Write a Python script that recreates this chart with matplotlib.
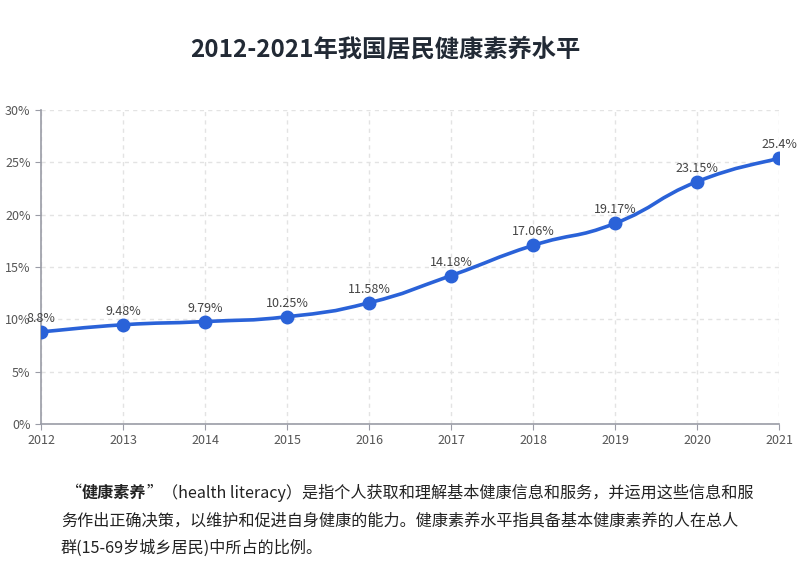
import matplotlib
matplotlib.use("Agg")
from matplotlib import pyplot as plt
from matplotlib.path import Path
from matplotlib.patches import PathPatch
import numpy as np

plt.rcParams['font.family'] = ['Noto Sans CJK SC', 'DejaVu Sans']

years = [2012, 2013, 2014, 2015, 2016, 2017, 2018, 2019, 2020, 2021]
values = [8.8, 9.48, 9.79, 10.25, 11.58, 14.18, 17.06, 19.17, 23.15, 25.4]
labels = ['8.8%', '9.48%', '9.79%', '10.25%', '11.58%', '14.18%', '17.06%', '19.17%', '23.15%', '25.4%']
yticks = [0, 5, 10, 15, 20, 25, 30]

title = '2012-2021年我国居民健康素养水平'
note_lines = [
    '务作出正确决策，以维护和促进自身健康的能力。健康素养水平指具备基本健康素养的人在总人',
    '群(15-69岁城乡居民)中所占的比例。',
]

blue = '#2a62d8'

fig = plt.figure(figsize=(8.12, 5.85), dpi=100)
ax = fig.add_axes([41/812, 1-424/585, (779-41)/812, (424-110)/585])

# smooth curve like echarts (bezier control points from neighbours)
pts = np.column_stack([years, values]).astype(float)
n = len(pts)
verts = [pts[0]]
codes = [Path.MOVETO]
s = 0.25
for i in range(n - 1):
    p0 = pts[max(i - 1, 0)]
    p1 = pts[i]
    p2 = pts[i + 1]
    p3 = pts[min(i + 2, n - 1)]
    c1 = p1 + (p2 - p0) * s
    c2 = p2 - (p3 - p1) * s
    verts += [c1, c2, p2]
    codes += [Path.CURVE4] * 3
ax.add_patch(PathPatch(Path(verts, codes), fill=False, edgecolor=blue, lw=2.6, zorder=3))
ax.plot(years, values, 'o', color=blue, ms=9, zorder=4)

for x, y, t in zip(years, values, labels):
    ax.annotate(t, (x, y), xytext=(0, 5), textcoords='offset points',
                ha='center', va='bottom', fontsize=9, color='#444444', zorder=5)

ax.set_xlim(2012, 2021)
ax.set_ylim(0, 30)
ax.set_xticks(years)
ax.set_yticks(yticks)
ax.set_yticklabels([f'{v}%' for v in yticks])
ax.tick_params(colors='#9a9ca6', labelcolor='#555555', labelsize=9, length=4)
ax.grid(True, ls=(0, (3, 3)), color='#e3e3e3', lw=1)
ax.set_axisbelow(True)
for sp in ['top', 'right']:
    ax.spines[sp].set_visible(False)
for sp in ['left', 'bottom']:
    ax.spines[sp].set_color('#9a9ca6')
    ax.spines[sp].set_linewidth(1.2)

fig.text(385/812, 1-50/585, title, ha='center', va='center', fontsize=17.5,
         fontweight='bold', color='#222a35')

# note paragraph; first line built from pieces so the term can be bold
renderer = fig.canvas.get_renderer()
fs = 11.6
y1 = 1 - 493/585
x = 66/812
pieces = [('“', 'normal'), ('健康素养', 'bold'), ('”', 'normal'),
          ('（health literacy）是指个人获取和理解基本健康信息和服务，并运用这些信息和服', 'normal')]
for txt, w in pieces:
    t = fig.text(x, y1, txt, ha='left', va='center', fontsize=fs, fontweight=w, color='#222222')
    bb = t.get_window_extent(renderer)
    x = bb.x1 / fig.bbox.width
for k, line in enumerate(note_lines):
    fig.text(61/812, 1 - (521 + 27*k)/585, line, ha='left', va='center', fontsize=fs, color='#222222')

fig.savefig('out.png', dpi=100)
